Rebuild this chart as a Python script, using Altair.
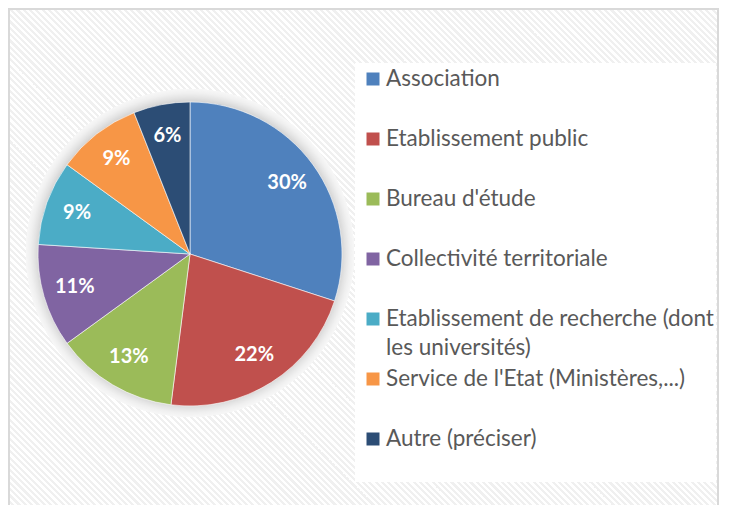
import math
import altair as alt
import pandas as pd

categories = [
    "Association",
    "Etablissement public",
    "Bureau d'étude",
    "Collectivité territoriale",
    "Etablissement de recherche (dont les universités)",
    "Service de l'Etat (Ministères,...)",
    "Autre (préciser)",
]
legend_labels = [
    "Association",
    "Etablissement public",
    "Bureau d'étude",
    "Collectivité territoriale",
    "Etablissement de recherche (dont\nles universités)",
    "Service de l'Etat (Ministères,...)",
    "Autre (préciser)",
]
percent_values = [30, 22, 13, 11, 9, 9, 6]
colors = ["#4F81BD", "#C0504D", "#9BBB59", "#8064A2", "#4BACC6", "#F79646", "#2C4D75"]

df = pd.DataFrame({
    "categorie": categories,
    "libelle": legend_labels,
    "valeur": percent_values,
    "ordre": list(range(len(categories))),
})

W, H = 711, 497
CX, CY, R = 182, 246, 152
FONT = "Lato"

color_scale = alt.Scale(domain=categories, range=colors)
base = alt.Chart(df)

# striped background via a hard-stop linear gradient
n_stripes = 225
period = 1.0 / n_stripes
stops = []
for k in range(n_stripes):
    o = k * period
    stops += [
        {"offset": o, "color": "#ffffff"},
        {"offset": o + period * 0.5, "color": "#ffffff"},
        {"offset": o + period * 0.5, "color": "#f0f0f0"},
        {"offset": o + period, "color": "#f0f0f0"},
    ]
stops[-1]["offset"] = 1.0
gradient = {"gradient": "linear", "x1": 0, "y1": 1, "x2": 1, "y2": 0, "stops": stops}
side = W
top = (H - side) / 2
background = base.mark_rect(fill=gradient, strokeWidth=0).encode(
    x=alt.value(0), x2=alt.value(W), y=alt.value(top), y2=alt.value(top + side)
)

border = base.mark_rect(fill=None, stroke="#d9d9d9", strokeWidth=1.5).encode(
    x=alt.value(1), x2=alt.value(W - 1), y=alt.value(1), y2=alt.value(H + 20)
)

legend_box = base.mark_rect(fill="#ffffff", opacity=0.85).encode(
    x=alt.value(347), x2=alt.value(708), y=alt.value(55), y2=alt.value(474)
)

# soft glow around the pie (radial gradient ring, opaque greys)
G = 12
edge = R / (R + G)
glow_fill = {
    "gradient": "radial", "x1": 0.5, "y1": 0.5, "r1": 0, "x2": 0.5, "y2": 0.5, "r2": 0.5,
    "stops": [
        {"offset": 0, "color": "#d4d4d4"},
        {"offset": edge - 0.005, "color": "#d4d4d4"},
        {"offset": edge + 0.3 * (1 - edge), "color": "#e4e4e4"},
        {"offset": edge + 0.65 * (1 - edge), "color": "#f0f0f0"},
        {"offset": 1, "color": "#f7f7f7"},
    ],
}
glow = base.mark_arc(theta=0, theta2=2 * math.pi, innerRadius=0, outerRadius=R + G,
                     fill=glow_fill).encode(x=alt.value(CX), y=alt.value(CY - 1))

pie = base.mark_arc(outerRadius=R, stroke="#ffffff", strokeWidth=0.6).encode(
    theta=alt.Theta("valeur:Q", stack=True),
    order=alt.Order("ordre:Q"),
    color=alt.Color("categorie:N", scale=color_scale, legend=None),
    x=alt.value(CX),
    y=alt.value(CY),
)

labels = base.transform_calculate(txt="datum.valeur + '%'").mark_text(
    radius=120, font=FONT, fontSize=20, fontWeight="bold", color="#ffffff",
    align="center", baseline="middle",
).encode(
    theta=alt.Theta("valeur:Q", stack=True),
    order=alt.Order("ordre:Q"),
    text="txt:N",
    x=alt.value(CX),
    y=alt.value(CY),
)

yscale = alt.Scale(type="point", domain=categories, range=[78, 438], padding=0)

legend_sq = base.mark_square(size=169, opacity=1, yOffset=-7).encode(
    x=alt.value(365),
    y=alt.Y("categorie:N", scale=yscale, axis=None),
    color=alt.Color("categorie:N", scale=color_scale, legend=None),
)

legend_txt = base.mark_text(
    align="left", baseline="alphabetic", lineBreak="\n", lineHeight=29,
    font=FONT, fontSize=22.5, color="#595959",
).encode(
    x=alt.value(378),
    y=alt.Y("categorie:N", scale=yscale, axis=None),
    text="libelle:N",
)

chart = alt.layer(
    background, border, legend_box, glow, pie, labels, legend_sq, legend_txt
).properties(
    width=W, height=H, padding=0, autosize=alt.AutoSizeParams(type="none"),
    background="#ffffff",
).configure_view(stroke=None)

chart.save("out.html", embed_options={"renderer": "svg", "actions": False})
